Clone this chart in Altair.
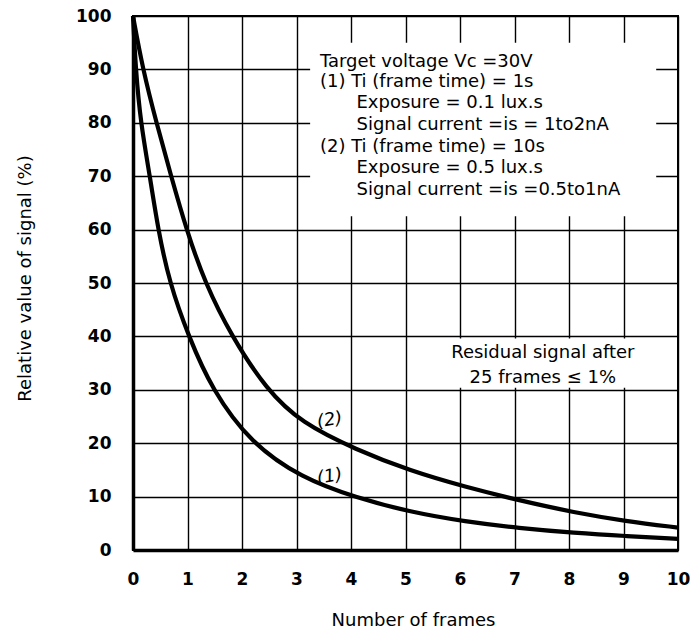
import altair as alt
import pandas as pd

# ---- data ----
frames_1 = [0, 0.05, 0.14, 0.31, 0.46, 0.67, 1.02, 1.45, 2.16, 3.09, 4.09, 5.09, 6.1, 7.08, 8.1, 9.04, 10]
signal_1 = [100, 90, 80, 70, 60, 50, 40, 30, 20, 13.5, 9.8, 7.1, 5.3, 4.1, 3.2, 2.6, 2.1]
frames_2 = [0, 0.18, 0.43, 0.7, 0.98, 1.32, 1.81, 2.45, 3.09, 4.09, 5.09, 6.1, 7.08, 8.1, 9.04, 10]
signal_2 = [100, 90, 80, 70, 60, 50, 40, 30, 23.8, 18.8, 14.8, 11.8, 9.3, 7.0, 5.4, 4.2]

x_ticks = list(range(0, 11))
y_ticks = list(range(0, 101, 10))

note_lines = [
    "Target voltage Vc =30V",
    "(1) Ti (frame time) = 1s",
    "Exposure =  0.1 lux.s",
    "Signal current =is = 1to2nA",
    "(2) Ti (frame time) = 10s",
    "Exposure = 0.5 lux.s",
    "Signal current =is =0.5to1nA",
]
note_x = [3.43, 3.43, 4.1, 4.1, 3.43, 4.1, 4.1]
note_y = [91.4, 87.7, 83.7, 79.6, 75.5, 71.5, 67.4]

resid_lines = ["Residual signal after", "25 frames \u2264 1%"]
resid_x = [7.52, 7.52]
resid_y = [36.9, 32.2]

curve_labels = ["(2)", "(1)"]
curve_label_x = [3.61, 3.61]
curve_label_y = [24.3, 13.7]

# blank (white) areas behind the annotations, in data units
blank_x = [3.25, 5.45]
blank_x2 = [9.6, 9.85]
blank_y = [62.5, 30.4]
blank_y2 = [95, 39.6]

FONT = "DejaVu Sans"

curves = pd.DataFrame(
    {"frames": frames_1 + frames_2,
     "signal": signal_1 + signal_2,
     "curve": ["1"] * len(frames_1) + ["2"] * len(frames_2)}
)
notes = pd.DataFrame({"text": note_lines, "x": note_x, "y": note_y})
resid = pd.DataFrame({"text": resid_lines, "x": resid_x, "y": resid_y})
clabels = pd.DataFrame({"text": curve_labels, "x": curve_label_x, "y": curve_label_y})
blanks = pd.DataFrame({"x": blank_x, "x2": blank_x2, "y": blank_y, "y2": blank_y2})

xs = alt.Scale(domain=[0, 10], nice=False, zero=False)
ys = alt.Scale(domain=[0, 100], nice=False, zero=False)

x_axis = alt.Axis(
    values=x_ticks, grid=True, gridColor="black", gridWidth=1.4, gridOpacity=1,
    domainColor="black", domainWidth=3.5, ticks=False,
    labelFont=FONT, labelFontSize=17, labelFontWeight="bold", labelColor="black",
    labelPadding=21, labelFlush=False,
    title="Number of frames", titleFont=FONT, titleFontSize=18, titleFontWeight="normal",
    titleColor="black", titleX=280, titleY=70, titleAlign="center", titleBaseline="middle",
)
y_axis = alt.Axis(
    values=y_ticks, grid=True, gridColor="black", gridWidth=1.4, gridOpacity=1,
    domainColor="black", domainWidth=3.5, ticks=False,
    labelFont=FONT, labelFontSize=17, labelFontWeight="bold", labelColor="black",
    labelPadding=22, labelFlush=False,
    title="Relative value of signal (%)", titleFont=FONT, titleFontSize=18,
    titleFontWeight="normal", titleColor="black", titleX=-108, titleY=262,
    titleAlign="center", titleBaseline="middle", titleAngle=-90,
)

lines = alt.Chart(curves).mark_line(
    color="black", strokeWidth=4.2, interpolate="basis"
).encode(
    x=alt.X("frames:Q", scale=xs, axis=x_axis),
    y=alt.Y("signal:Q", scale=ys, axis=y_axis),
    detail="curve:N",
)

blank = alt.Chart(blanks).mark_rect(color="white").encode(
    x=alt.X("x:Q", scale=xs), x2="x2:Q",
    y=alt.Y("y:Q", scale=ys), y2="y2:Q",
)

note_text = alt.Chart(notes).mark_text(
    align="left", baseline="middle", font=FONT, fontSize=18, color="black"
).encode(x=alt.X("x:Q", scale=xs), y=alt.Y("y:Q", scale=ys), text="text:N")

resid_text = alt.Chart(resid).mark_text(
    align="center", baseline="middle", font=FONT, fontSize=18, color="black"
).encode(x=alt.X("x:Q", scale=xs), y=alt.Y("y:Q", scale=ys), text="text:N")

clabel_text = alt.Chart(clabels).mark_text(
    align="center", baseline="middle", font=FONT, fontSize=18, fontStyle="italic",
    color="black", angle=350,
).encode(x=alt.X("x:Q", scale=xs), y=alt.Y("y:Q", scale=ys), text="text:N")

chart = alt.layer(blank, lines, note_text, resid_text, clabel_text).properties(
    width=545, height=534,
    autosize=alt.AutoSizeParams(type="none"),
    padding={"left": 133, "top": 16, "right": 18, "bottom": 90},
    background="white",
).configure_view(stroke="black", strokeWidth=2)

chart.save("out.html", embed_options={"renderer": "svg", "actions": False})
